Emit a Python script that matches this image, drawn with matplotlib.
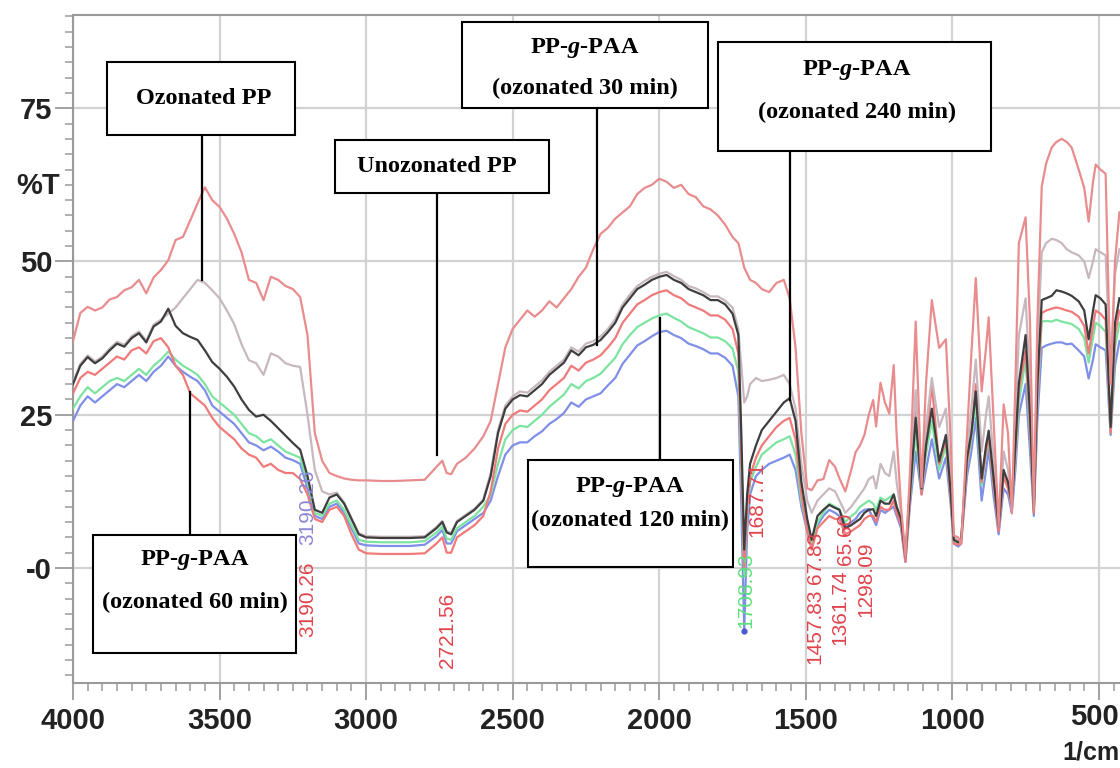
import matplotlib
matplotlib.use("Agg")
import matplotlib.pyplot as plt
from matplotlib.patches import Rectangle
from matplotlib.lines import Line2D
from matplotlib.ticker import MultipleLocator, FixedLocator

# ---------------- data ----------------
WN = [
    # 4000-3200
    4000, 3975, 3950, 3925, 3900, 3875, 3850, 3825, 3800, 3775, 3750, 3725, 3700, 3675, 3650, 3625, 3600,
    3575, 3550, 3525, 3500, 3475, 3450, 3425, 3400, 3375, 3350, 3325, 3300, 3275, 3250, 3225, 3200,
    # 3175-2600
    3175, 3150, 3125, 3100, 3075, 3050, 3025, 3000, 2950, 2900, 2850, 2800, 2760, 2740, 2725, 2710, 2690,
    2660, 2630, 2600,
    # 2575-1400
    2575, 2550, 2525, 2500, 2475, 2450, 2425, 2400, 2375, 2350, 2325, 2300, 2275, 2250, 2225, 2200, 2175,
    2150, 2125, 2100, 2075, 2050, 2025, 2000, 1975, 1950, 1925, 1900, 1875, 1850, 1825, 1800, 1775, 1750,
    1730, 1720, 1710, 1700, 1690, 1670, 1650, 1625, 1600, 1575, 1555, 1535, 1515, 1495, 1480, 1460, 1440,
    1420, 1400,
    # 1385-430
    1385, 1365, 1345, 1330, 1315, 1300, 1285, 1270, 1260, 1245, 1230, 1215, 1200, 1190, 1175, 1160, 1145,
    1125, 1105, 1090, 1070, 1045, 1022, 1005, 995, 980, 970, 950, 935, 920, 900, 885, 876, 860, 842, 825,
    810, 797, 785, 773, 750, 735, 722, 710, 695, 680, 661, 645, 627, 610, 593, 569, 550, 535, 520, 511,
    495, 477, 460, 445, 430,
]

unozonated_pp = [
    37.0, 41.6, 42.6, 42.0, 42.5, 43.8, 44.2, 45.3, 45.8, 47.0, 44.8, 47.4, 48.6, 50.2, 53.5, 54.0, 56.7,
    59.5, 62.1, 60.0, 58.9, 57.0, 54.5, 51.5, 47.0, 46.5, 43.7, 47.5, 47.0, 46.0, 45.5, 44.2, 38.0,
    22.0, 17.5, 15.5, 15.0, 14.6, 14.4, 14.3, 14.3, 14.2, 14.2, 14.3, 14.4, 16.5, 17.5, 15.5, 15.3, 17.0,
    18.0, 19.5, 21.5,
    24, 30, 36, 39, 40.5, 42, 41, 42, 43.5, 42.5, 44, 45.5, 47.5, 49, 52, 54.5, 55.5,
    57, 58, 59, 61, 62, 62.5, 63.5, 63, 62, 62.5, 61, 60.5, 59, 58.5, 57.5, 56, 54,
    53, 51, 49, 48, 47, 46.5, 45.5, 45, 46.5, 47, 44, 36, 22, 13, 12.7, 14.3, 14.5,
    17.6, 16.5,
    14.6, 12.5, 16, 18.9, 20, 21.7, 25, 27.4, 23.1, 30.2, 27, 25.2, 33.1, 21.7, 10, 1.8, 15,
    40.2, 13.2, 30, 43.7, 35.9, 37.3, 20, 5.3, 5, 3.9, 21.7, 35, 47.3, 28.8, 36, 40.9, 25, 6.8, 26.7,
    22, 8.9, 30, 53, 57.2, 40, 9.6, 40, 62.2, 66, 68.6, 69.5, 70, 69.5, 68.6, 65, 62, 56.5, 63, 65.8,
    65, 64.3, 30, 50, 58,
]

ozonated_pp = [
    30.3, 33.3, 34.7, 33.7, 34.5, 35.8, 36.9, 36.4, 37.8, 38.6, 37.1, 39.7, 40.5, 41.5, 42.5, 44.0, 45.5,
    47.0, 46.5, 45.3, 44.0, 42.0, 39.8, 36.5, 33.9, 33.4, 31.5, 35.0, 34.5, 33.4, 33.0, 32.8, 25,
    16, 12.5, 12, 12.3, 10.7, 8.2, 5.7, 5.2, 5.1, 5.1, 5.1, 5.2, 6.7, 7.7, 6.0, 5.7, 7.7,
    8.7, 9.7, 11.2,
    15.5, 22.5, 26.5, 28, 28.8, 28.6, 29.6, 30.6, 32, 33, 34, 36, 35.3, 36.6, 37, 37.8, 39,
    40.6, 43, 44.6, 46, 46.8, 47.5, 48, 48.3, 47.6, 47, 46, 45.6, 45, 44.3, 44.3, 43.6, 42.5,
    39, 33, 27, 28, 30, 31, 30.5, 30.7, 31, 31.5, 30, 26, 17, 11, 9, 11, 12,
    13, 12.5,
    11, 9, 10, 11, 12, 13, 14.5, 15, 13, 17, 15.5, 15, 19, 14, 9, 2, 13,
    29, 13, 23, 31, 23, 26, 14, 5, 4.5, 4.3, 19, 26, 34, 19, 25, 28, 18, 6.8, 19,
    16, 10, 24, 38, 44, 30, 9.6, 36, 51.5, 53, 53.7, 53.5, 53, 52, 51.5, 51, 50, 47.3, 50, 52,
    51.5, 51, 32, 48, 52,
]

paa_dark = [
    30, 33, 34.4, 33.4, 34.2, 35.5, 36.6, 36.1, 37.5, 38.3, 36.8, 39.4, 40.2, 42.3, 39.5, 38.3, 37.7,
    37.2, 35.5, 33.6, 32.5, 31.2, 29.6, 27.5, 25.8, 24.7, 25.0, 24.0, 22.8, 21.6, 20.4, 19.3, 15,
    9.5, 9.0, 11.5, 12.0, 10.5, 8.0, 5.5, 5.0, 4.9, 4.9, 4.9, 5.0, 6.5, 7.5, 5.8, 5.5, 7.5,
    8.5, 9.5, 11.0,
    15, 22, 26, 27.5, 28.2, 28, 29, 30, 31.5, 32.5, 33.5, 35.5, 34.7, 36, 36.4, 37.2, 38.5,
    40, 42.5, 44, 45.5, 46.2, 47, 47.5, 47.8, 47, 46.5, 45.5, 45, 44.5, 43.7, 43.7, 43, 41.5,
    38, 22, 3, 12, 17, 20, 22.5, 24, 25.5, 27, 27.7, 24, 14, 8, 4.6, 8.5, 9.5,
    10.3, 9.8,
    9.5, 6.5, 7, 7.5, 8, 9, 9.5, 9.6, 8.5, 11, 10.5, 10.5, 12, 10, 8, 1.8, 12,
    24.5, 13, 20, 26, 17.4, 21.7, 12, 4.6, 4.2, 4.6, 18, 22, 28.8, 14.6, 20, 22.4, 15, 6.8, 16,
    14, 10.3, 20, 30.2, 38, 25, 9.6, 30, 43.7, 44, 44.4, 45.3, 45.1, 44.8, 44.4, 43.5, 42, 37.3, 42, 44.5,
    44, 43, 23, 40, 44,
]

paa_red = [
    28.5, 31, 32, 31.5, 32.5, 33.5, 34.5, 34, 35.5, 36, 35, 37, 37.5, 36, 33, 31.5, 28.5,
    27.5, 26.5, 24.5, 23, 22, 21, 19.5, 18.5, 18, 16.5, 17, 16, 15.5, 15.5, 14.5, 12,
    8, 7.5, 9.5, 10, 8.5, 5.5, 3, 2.4, 2.3, 2.3, 2.3, 2.4, 4.0, 5.0, 2.5, 2.5, 5.0,
    6.0, 7.0, 8.5,
    12.5, 19.5, 23.5, 25, 25.7, 25.5, 26.5, 27.5, 29, 30, 31, 33, 32.2, 33.5, 34, 34.7, 36,
    37.5, 40, 41.5, 43, 43.7, 44.5, 45, 45.3, 44.5, 44, 43, 42.5, 42, 41.2, 41.2, 40.5, 39,
    35, 18, 0, 10, 15, 18, 20, 21.5, 23, 24, 24.5, 21, 12, 6, 3, 6.5, 7.5,
    8.5, 8,
    8, 5.5, 6, 6.5, 7, 8, 8.5, 8.5, 7.5, 10, 9.5, 9.5, 11, 9, 7, 1, 11,
    25.5, 12, 20, 30, 17, 21, 11, 4, 3.8, 4, 17, 22, 30, 14, 19, 21.5, 14, 6, 15,
    13, 10, 19, 29, 35.5, 23, 9, 28, 41.6, 42, 42.3, 42.5, 42.3, 42, 41.8, 41, 39.5, 35, 39.5, 42,
    41.5, 40.5, 22, 38, 42,
]

paa_green = [
    26, 28, 29.5, 28.5, 29.5, 30.5, 31, 30.5, 31.5, 32.5, 31.5, 33, 34, 35.3, 34, 33, 32.3,
    31.5, 30, 28, 27, 26, 25, 23.5, 22, 21.5, 20.5, 21, 20, 19, 18.5, 18, 14,
    9, 8.5, 10.5, 11, 9.5, 7, 4.6, 4.3, 4.2, 4.2, 4.2, 4.4, 5.8, 6.8, 4.8, 4.6, 6.5,
    7.5, 8.5, 10,
    12, 17, 21, 22.5, 23.2, 23, 24, 25, 26.3, 27.3, 28.3, 30, 29.3, 30.5, 31, 31.7, 33,
    34.3, 36.5, 38, 39.3, 40, 40.7, 41.2, 41.5, 40.8, 40.2, 39.3, 38.8, 38.3, 37.6, 37.6, 37, 35.8,
    32, 16, -1, 9, 14, 16.5, 18.5, 19.5, 20.5, 21, 21.5, 18.5, 11, 6.5, 4, 7.5, 9,
    10.5, 10,
    9.5, 7.5, 8.5, 9, 10, 10.5, 11, 10.5, 9.5, 11.5, 11, 11.5, 12, 10, 7.5, 1.5, 11,
    22, 12.5, 18.5, 24, 16, 20, 11, 4.3, 4, 4.3, 16.5, 21, 27, 13.5, 18.5, 21, 14, 6.5, 15,
    13, 10, 18, 27, 34, 22, 9.3, 27, 40.2, 40.3, 40.2, 40.5, 40.2, 40, 39.8, 39, 37.5, 33.5, 37.5, 40,
    39.5, 38.5, 22, 36, 40,
]

paa_blue = [
    24, 26.5, 28, 27, 28, 29, 30, 29.5, 30.5, 31.5, 30.5, 32, 33, 34.5, 33, 32, 31.2,
    30.5, 29, 26.5, 25.5, 24.5, 23.5, 22, 20.5, 20, 19.2, 19.8, 19, 18, 17.6, 17, 13,
    8.5, 8, 10, 10.5, 9, 6.5, 4.0, 3.7, 3.6, 3.6, 3.6, 3.8, 5.2, 6.2, 4.0, 4.0, 6.0,
    7.0, 8.0, 9.0,
    11, 15, 18.5, 20, 20.5, 20.5, 21.5, 22.3, 23.5, 24.3, 25.3, 27, 26.3, 27.5, 28, 28.5, 29.8,
    31, 33.3, 34.8, 36.3, 37, 37.8, 38.5, 38.7, 38, 37.5, 36.6, 36.2, 35.7, 35, 35, 34.3, 33,
    28, 10, -10.2, 6, 12, 15, 16, 17, 17.5, 18, 18.5, 16, 10, 6, 3.5, 7, 8.5,
    9.5, 9,
    8.5, 6.5, 7.5, 8, 9, 9.5, 9.6, 8, 7, 9.5, 9, 9.5, 10, 8.5, 6.5, 1, 10,
    19, 12, 16, 21, 14.6, 18, 10, 4, 3.5, 4, 15, 19, 24.5, 11, 16, 19.5, 12, 5.5, 13,
    12, 9, 16, 25, 30, 19, 8.5, 24, 35.9, 36.3, 36.6, 36.8, 36.8, 36.5, 36.6, 35.5, 34.5, 30.9, 34, 36.5,
    36, 35.5, 21.7, 33, 37,
]

X_TICKS = [4000, 3500, 3000, 2500, 2000, 1500, 1000, 500]
X_TICK_LABELS = ["4000", "3500", "3000", "2500", "2000", "1500", "1000", "500"]
Y_TICKS = [0, 25, 50, 75]
Y_TICK_LABELS = ["-0", "25", "50", "75"]

PEAK_LABELS = [
    # (text, x_px, bottom_y_px, colour)
    ("3190.26", 308, 637, "#e0444c"),
    ("3190.26", 308, 545, "#8c86d8"),
    ("2721.56", 448, 668, "#e0444c"),
    ("1708.93", 746, 628, "#5ee07a"),
    ("1687.71", 757, 537, "#e0444c"),
    ("1457.83", 815, 664, "#e0444c"),
    ("67.83", 816, 584, "#e0444c"),
    ("1361.74", 840, 645, "#e0444c"),
    ("65.60", 845, 565, "#e0444c"),
    ("1298.09", 866, 617, "#e0444c"),
]

# ---------------- figure ----------------
W, H = 1120, 768
plt.rcParams["mathtext.fontset"] = "custom"
plt.rcParams["mathtext.rm"] = "Liberation Serif:bold"
plt.rcParams["mathtext.it"] = "Liberation Serif:italic:bold"
plt.rcParams["mathtext.bf"] = "Liberation Serif:bold"

fig = plt.figure(figsize=(W / 100, H / 100), dpi=100)
ax = fig.add_axes([73 / W, 1 - 683 / H, (W - 73) / W, (683 - 15) / H])

series = [
    (paa_blue, "#7f8fe8"),
    (paa_green, "#7de3a0"),
    (paa_red, "#f07a7a"),
    (ozonated_pp, "#c7b8bf"),
    (paa_dark, "#3e3e3e"),
    (unozonated_pp, "#e98c8e"),
]
for vals, col in series:
    ax.plot(WN, vals, color=col, lw=1.6, zorder=3, solid_joinstyle="round")

# marker dot at the 1708.93 band minimum of the lowest trace
i_min = paa_blue.index(min(paa_blue))
ax.plot([WN[i_min]], [paa_blue[i_min]], "o", ms=3.5, color="#4a5ad0", zorder=4)

ax.set_xlim(4000, 428)
ax.set_ylim(-18.75, 90.2)

ax.xaxis.set_major_locator(FixedLocator(X_TICKS))
ax.xaxis.set_minor_locator(MultipleLocator(50))
ax.yaxis.set_major_locator(FixedLocator(Y_TICKS))
ax.yaxis.set_minor_locator(MultipleLocator(2.5))
# last label is drawn separately so it stays inside the canvas
ax.set_xticklabels(X_TICK_LABELS[:-1] + [""])
ax.set_yticklabels(Y_TICK_LABELS)

ax.grid(True, which="major", color="#d2d2d2", lw=1.6, zorder=0)
for s in ["left", "bottom", "top"]:
    ax.spines[s].set_color("#9a9a9a")
    ax.spines[s].set_linewidth(1.5)
ax.spines["right"].set_visible(False)

ax.tick_params(axis="y", which="major", length=13, width=1.3, color="#9a9a9a",
               labelsize=21, labelcolor="#222222", pad=2)
ax.tick_params(axis="x", which="major", length=12, width=1.3, color="#9a9a9a",
               labelsize=21, labelcolor="#222222", pad=5)
ax.tick_params(axis="both", which="minor", length=6, width=1.1, color="#9a9a9a")
for lab in ax.get_xticklabels() + ax.get_yticklabels():
    lab.set_fontfamily("Liberation Sans")
    lab.set_fontweight("bold")

fig.text(1119 / W, 1 - 717 / H, X_TICK_LABELS[-1], fontsize=21, fontweight="bold",
         color="#222222", family="Liberation Sans", ha="right", va="center")
fig.text(38 / W, 1 - 186 / H, "%T", fontsize=21, fontweight="bold", color="#222222",
         family="Liberation Sans", ha="center", va="center")
fig.text(1119 / W, 1 - 753 / H, "1/cm", fontsize=18, fontweight="bold", color="#222222",
         family="Liberation Sans", ha="right", va="center")


def fx(x):
    return x / W


def fy(y):
    return 1 - y / H


def box(x0, y0, x1, y1, lines, centres):
    fig.add_artist(Rectangle((fx(x0), fy(y1)), (x1 - x0) / W, (y1 - y0) / H,
                             transform=fig.transFigure, facecolor="white",
                             edgecolor="black", lw=1.5, zorder=6))
    for s, (cx, cy) in zip(lines, centres):
        fig.text(fx(cx), fy(cy), s, fontsize=17.5, family="Liberation Serif",
                 fontweight="bold", ha="center", va="center", zorder=7)


def pointer(x, y0, y1):
    fig.add_artist(Line2D([fx(x), fx(x)], [fy(y0), fy(y1)], transform=fig.transFigure,
                          color="black", lw=1.6, zorder=5))


PAA = r"PP-$\mathit{g}$-PAA"

box(107, 62, 295, 135, ["Ozonated PP"], [(204, 99)])
pointer(202, 135, 280)
box(335, 140, 549, 193, ["Unozonated PP"], [(437, 167)])
pointer(437, 193, 455)
box(462, 22, 708, 108, [PAA, "(ozonated 30 min)"], [(585, 48), (585, 88)])
pointer(597, 108, 345)
box(718, 42, 991, 151, [PAA, "(ozonated 240 min)"], [(857, 70), (857, 112)])
pointer(790, 151, 400)
box(528, 460, 733, 567, [PAA, "(ozonated 120 min)"], [(630, 487), (630, 520)])
pointer(660, 460, 318)
box(93, 535, 296, 653, [PAA, "(ozonated 60 min)"], [(195, 560), (195, 602)])
pointer(190, 535, 392)

for txt, x, yb, col in PEAK_LABELS:
    fig.text(fx(x), fy(yb), txt, rotation=90, fontsize=15, color=col,
             family="Liberation Sans", ha="center", va="bottom", zorder=4)

fig.savefig("out.png", dpi=100)
